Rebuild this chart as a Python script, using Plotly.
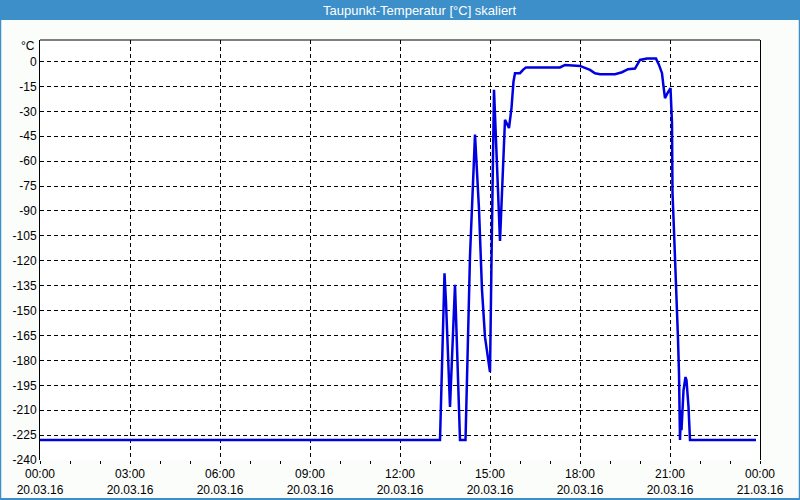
import plotly.graph_objects as go

times = ["00:00", "13:20", "13:29", "13:32", "13:40", "13:50", "14:00", "14:11", "14:20", "14:30",
         "14:38", "14:44", "14:50", "14:56", "15:00", "15:03", "15:08", "15:13", "15:20", "15:30",
         "15:38", "15:43", "15:47", "15:50", "16:00", "16:06", "16:12", "17:00", "17:20", "17:30",
         "17:50", "18:00", "18:20", "18:30", "18:40", "19:10", "19:24", "19:36", "19:50", "20:00",
         "20:14", "20:32", "20:38", "20:44", "20:47", "20:50", "20:55", "21:01", "21:04", "21:05",
         "21:08", "21:11", "21:13", "21:16", "21:18", "21:20", "21:22", "21:23", "21:27", "21:31",
         "21:33", "21:37", "21:40", "23:52"]
values = [-228, -228, -127.5, -145, -208, -134.5, -228, -228, -117, -44,
          -89, -137.5, -166, -180, -187, -120, -17, -55, -108, -35,
          -40, -28, -12, -7, -7, -5, -3.5, -3.5, -3.5, -2,
          -2.2, -2.6, -5, -7, -7.6, -7.6, -6.4, -4.6, -4.2, 1,
          1.8, 1.8, -2, -7, -15, -22, -19, -16, -37, -79,
          -102, -124, -145, -167, -188, -228, -210, -222, -198, -190,
          -192, -208, -228, -228]

x_tick_vals = ["2016-03-20 00:00", "2016-03-20 03:00", "2016-03-20 06:00", "2016-03-20 09:00",
               "2016-03-20 12:00", "2016-03-20 15:00", "2016-03-20 18:00", "2016-03-20 21:00",
               "2016-03-21 00:00"]
x_tick_text = ["00:00<br>20.03.16", "03:00<br>20.03.16", "06:00<br>20.03.16", "09:00<br>20.03.16",
               "12:00<br>20.03.16", "15:00<br>20.03.16", "18:00<br>20.03.16", "21:00<br>20.03.16",
               "00:00<br>21.03.16"]
y_tick_vals = [0, -15, -30, -45, -60, -75, -90, -105, -120, -135, -150, -165, -180, -195, -210, -225, -240]
y_tick_text = ["0", "-15", "-30", "-45", "-60", "-75", "-90", "-105", "-120", "-135", "-150",
               "-165", "-180", "-195", "-210", "-225", "-240"]

title_text = "Taupunkt-Temperatur [°C] skaliert"
unit_text = "°C"

x_dates = ["2016-03-20 " + t for t in times]

fig = go.Figure()
fig.add_trace(go.Scatter(x=x_dates, y=values, mode="lines",
                         line=dict(color="rgb(0,0,225)", width=2.5), hoverinfo="skip"))

W, H = 800, 500
ml, mr, mt, mb = 40, 40, 40, 40
pw, ph = W - ml - mr, H - mt - mb


def px(xp):
    return (xp - ml) / pw


def py(yp):
    return (H - mb - yp) / ph


font_family = "Liberation Sans, Arial, sans-serif"

fig.update_layout(
    width=W, height=H,
    margin=dict(l=ml, r=mr, t=mt, b=mb, autoexpand=False),
    paper_bgcolor="#fbfdfb",
    plot_bgcolor="#ffffff",
    showlegend=False,
    font=dict(family=font_family, size=12, color="black"),
    xaxis=dict(
        type="date",
        range=["2016-03-20 00:00", "2016-03-21 00:00"],
        tickmode="array", tickvals=x_tick_vals, ticktext=x_tick_text,
        ticks="outside", ticklen=3, tickcolor="black", tickwidth=1,
        minor=dict(ticks="outside", ticklen=3, tickcolor="black", dtick=3600000,
                   tick0="2016-03-20 00:00", showgrid=False),
        showgrid=True, gridcolor="black", gridwidth=1, griddash="4px,3px",
        showline=False, zeroline=False, automargin=False,
        tickfont=dict(family=font_family, size=12, color="black"),
        fixedrange=True,
    ),
    yaxis=dict(
        range=[-240, 13],
        tickmode="array", tickvals=y_tick_vals, ticktext=y_tick_text,
        ticks="", showgrid=True, gridcolor="black", gridwidth=1, griddash="4px,3px",
        showline=True, linecolor="black", linewidth=1, mirror=True,
        zeroline=False, automargin=False,
        tickfont=dict(family=font_family, size=12, color="black"),
        fixedrange=True,
    ),
    shapes=[
        dict(type="rect", xref="paper", yref="paper", x0=px(0), x1=px(W), y0=py(20), y1=py(0),
             fillcolor="rgb(60,143,200)", line=dict(width=0), layer="above"),
        dict(type="line", xref="paper", yref="paper", x0=0, x1=1, y0=1, y1=1,
             line=dict(color="black", width=1)),
        dict(type="line", xref="paper", yref="paper", x0=px(0.5), x1=px(0.5), y0=py(H), y1=py(0),
             line=dict(color="rgb(60,143,200)", width=1.5)),
        dict(type="line", xref="paper", yref="paper", x0=px(W - 0.5), x1=px(W - 0.5), y0=py(H), y1=py(0),
             line=dict(color="rgb(60,143,200)", width=1.5)),
        dict(type="line", xref="paper", yref="paper", x0=px(0), x1=px(W), y0=py(H - 1), y1=py(H - 1),
             line=dict(color="rgb(60,143,200)", width=2)),
    ],
    annotations=[
        dict(text=title_text, xref="paper", yref="paper", x=px(419), y=py(10),
             xanchor="center", yanchor="middle", showarrow=False,
             font=dict(family=font_family, size=13, color="white")),
        dict(text=unit_text, xref="paper", yref="paper", x=px(37), y=py(46),
             xanchor="right", yanchor="middle", showarrow=False,
             font=dict(family=font_family, size=12, color="black")),
    ],
)

fig.write_html("out.html")
